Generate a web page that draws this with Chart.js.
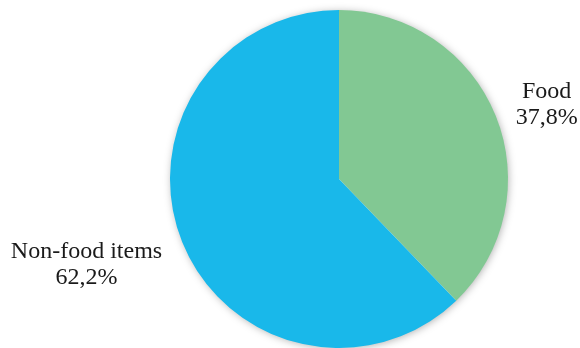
<!DOCTYPE html>
<html lang="en">
<head>
  <meta charset="UTF-8" />
  <title>Food vs non-food items</title>
  <script src="https://cdn.jsdelivr.net/npm/chart.js"></script>
  <style>
    html, body { margin: 0; padding: 0; background: #fff; }
    #wrap { width: 580px; height: 348px; position: relative; }
  </style>
</head>
<body>
  <div id="wrap"><canvas id="pieChart"></canvas></div>

  <script>
    const categories = ['Food', 'Non-food items'];
    const shares = [37.8, 62.2];
    const sliceColors = ['#82c893', '#19b8ea'];

    // soft drop shadow under the whole pie
    const pieShadow = {
      id: 'pieShadow',
      beforeDatasetsDraw(chart) {
        const arc = chart.getDatasetMeta(0).data[0];
        if (!arc) return;
        const ctx = chart.ctx;
        ctx.save();
        ctx.shadowColor = 'rgba(0,0,0,0.35)';
        ctx.shadowBlur = 8;
        ctx.shadowOffsetX = 1;
        ctx.shadowOffsetY = 1;
        ctx.fillStyle = '#fff';
        ctx.beginPath();
        ctx.arc(arc.x, arc.y, arc.outerRadius - 1, 0, Math.PI * 2);
        ctx.fill();
        ctx.restore();
      }
    };

    // category name + percentage outside each slice
    const sliceLabels = {
      id: 'sliceLabels',
      afterDatasetsDraw(chart) {
        const ctx = chart.ctx;
        const dist = [1.308, 1.574];
        const turn = [0.033, 0.063];
        ctx.save();
        ctx.font = '24px "Liberation Serif", "Times New Roman", serif';
        ctx.fillStyle = '#1a1a1a';
        ctx.textAlign = 'center';
        ctx.textBaseline = 'alphabetic';
        chart.getDatasetMeta(0).data.forEach((arc, i) => {
          const mid = (arc.startAngle + arc.endAngle) / 2 + turn[i];
          const r = arc.outerRadius * dist[i];
          const x = arc.x + Math.cos(mid) * r;
          const y = arc.y + Math.sin(mid) * r;
          ctx.fillText(categories[i], x, y - 5);
          ctx.fillText(shares[i].toFixed(1).replace('.', ',') + '%', x, y + 21);
        });
        ctx.restore();
      }
    };

    new Chart(document.getElementById('pieChart'), {
      type: 'pie',
      data: {
        labels: categories,
        datasets: [{
          data: shares,
          backgroundColor: sliceColors,
          borderWidth: 0
        }]
      },
      options: {
        responsive: true,
        maintainAspectRatio: false,
        animation: false,
        layout: { padding: { left: 98, right: 0, top: 10, bottom: 0 } },
        plugins: {
          legend: { display: false },
          tooltip: { enabled: false }
        }
      },
      plugins: [pieShadow, sliceLabels]
    });
  </script>
</body>
</html>
